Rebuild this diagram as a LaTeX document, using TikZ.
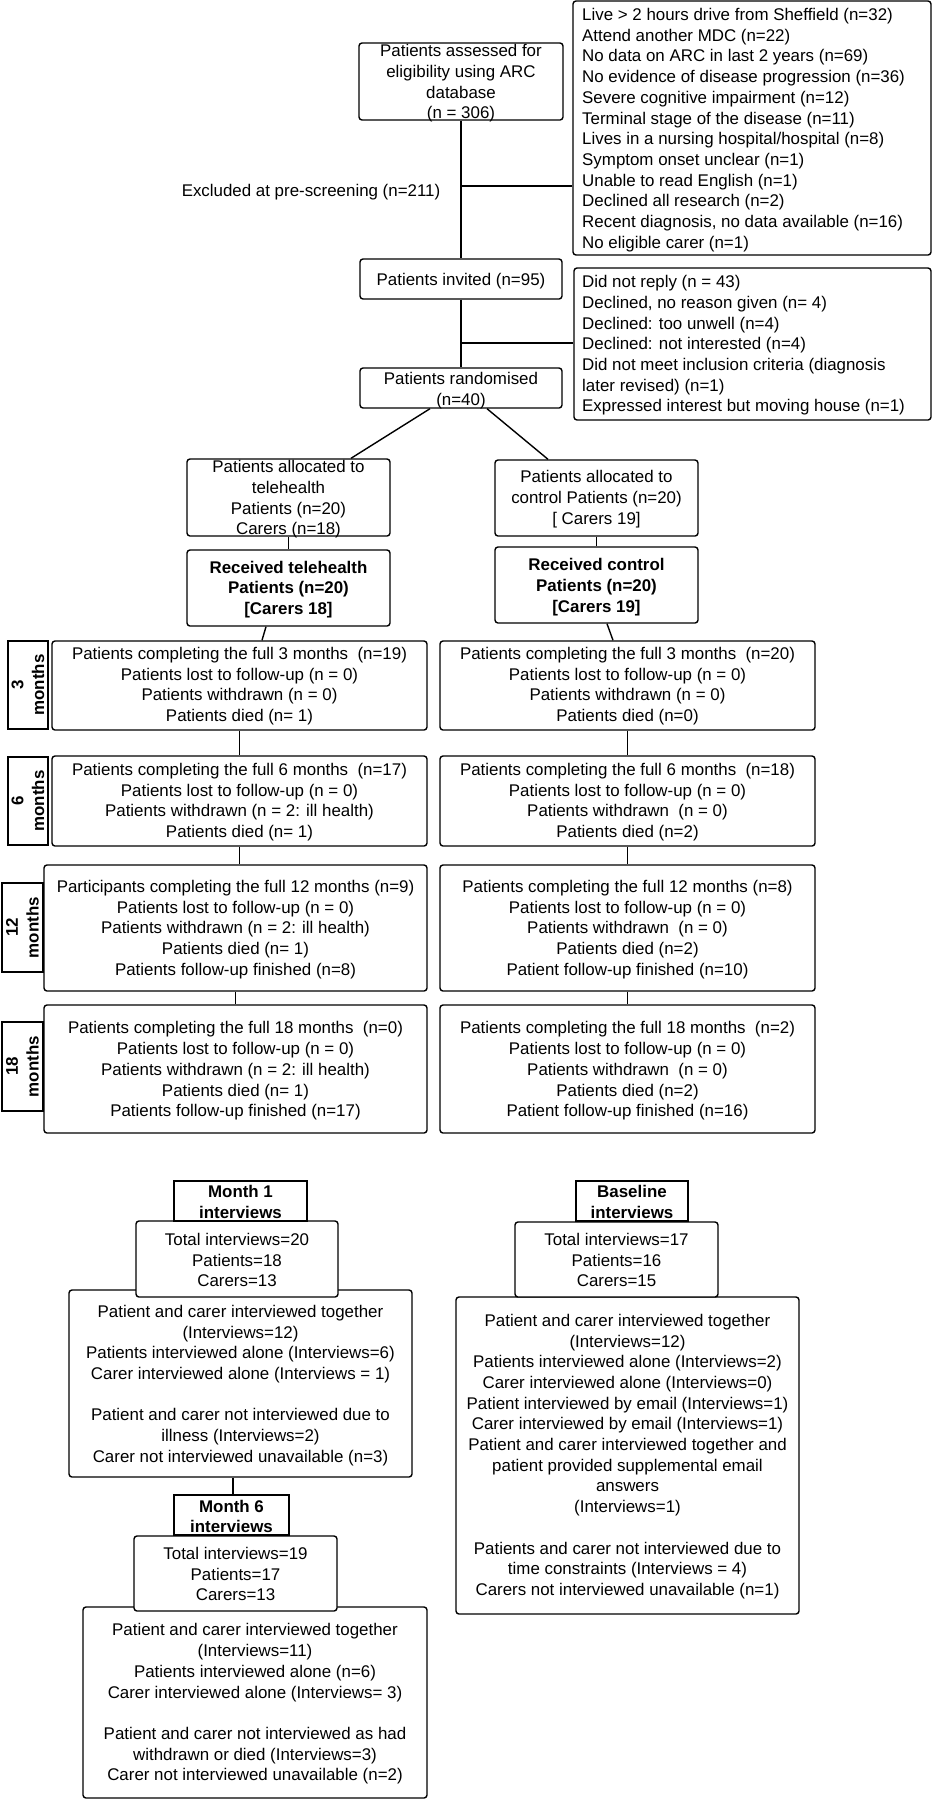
\documentclass[tikz,border=0pt]{standalone}
\usepackage{fontspec}
\setmainfont{Liberation Sans}
\newcommand\myfs{\fontsize{16.9}{20.7}\selectfont}
\newcommand\mkbox[6][box]{\node[#1, minimum width={#5-#3}, minimum height={#6-#4}] (#2) at ({(#3+#5)/2},{(#4+#6)/2}) {};}
\begin{document}
\begin{tikzpicture}[x=1pt,y=-1pt,
  box/.style={draw, line width=1.4pt, rounded corners=3pt, fill=white, inner sep=0pt},
  sqbox/.style={draw, line width=1.4pt, fill=white, inner sep=0pt},
  txt/.style={inner sep=0pt, align=center, font=\myfs},
  btxt/.style={inner sep=0pt, align=center, font=\myfs\bfseries},
  ltxt/.style={inner sep=0pt, align=left, anchor=west, font=\myfs},
  con/.style={line width=1.4pt}]
\useasboundingbox[fill=white] (0,0) rectangle (933,1800);

% ---- boxes ----
\mkbox{assess}{359}{43}{563}{120}
\mkbox{excl1}{573}{1}{931}{255}
\mkbox{invited}{360}{259}{562}{299}
\mkbox{excl2}{574}{268}{931}{420}
\mkbox{rand}{360}{368}{562}{408}
\mkbox{alloc1}{187}{459}{390}{536}
\mkbox{alloc2}{495}{460}{698}{536}
\mkbox{recv1}{187}{550}{390}{626}
\mkbox{recv2}{495}{547}{698}{623}
\mkbox{m3L}{52}{641}{427}{730}
\mkbox{m3R}{440}{641}{815}{730}
\mkbox[sqbox]{lab3}{8}{641}{48}{729}
\mkbox{m6L}{52}{756}{427}{846}
\mkbox{m6R}{440}{756}{815}{846}
\mkbox[sqbox]{lab6}{8}{757}{48}{845}
\mkbox{m12L}{44}{865}{427}{991}
\mkbox{m12R}{440}{865}{815}{991}
\mkbox[sqbox]{lab12}{2}{883}{43}{972}
\mkbox{m18L}{44}{1005}{427}{1133}
\mkbox{m18R}{440}{1005}{815}{1133}
\mkbox[sqbox]{lab18}{2}{1022}{43}{1111}

\mkbox{m1big}{69}{1290}{412}{1477}
\mkbox{m1tot}{136}{1221}{338}{1297}
\mkbox[sqbox]{m1lab}{174}{1181}{307}{1221}
\mkbox{blbig}{456}{1297}{799}{1614}
\mkbox{bltot}{515}{1222}{718}{1297}
\mkbox[sqbox]{bllab}{576}{1181}{688}{1221}
\mkbox{m6big}{83}{1607}{427}{1798}
\mkbox{m6tot}{134}{1536}{337}{1611}
\mkbox[sqbox]{m6lab}{174}{1495}{289}{1535}

% ---- connectors ----
\draw[con] (assess.south) -- (invited.north);
\coordinate (j1) at (461,186);
\draw[con] (j1) -- (j1 -| excl1.west);
\draw[con] (invited.south) -- (rand.north);
\coordinate (j2) at (461,343);
\draw[con] (j2) -- (j2 -| excl2.west);
\draw[con] ([xshift=-31pt]rand.south) -- ([xshift=62.5pt]alloc1.north);
\draw[con] ([xshift=26pt]rand.south) -- ([xshift=-48.5pt]alloc2.north);
\draw[con] (alloc1.south) -- (recv1.north);
\draw[con] (alloc2.south) -- (recv2.north);
\draw[con] ([xshift=-22.5pt]recv1.south) -- ([xshift=22.5pt]m3L.north);
\draw[con] ([xshift=10.5pt]recv2.south) -- ([xshift=-14.5pt]m3R.north);
\draw[con] (m3L.south) -- (m3L.south |- m6L.north);
\draw[con] (m3R.south) -- (m6R.north);
\draw[con] (m6L.south) -- (m6L.south |- m12L.north);
\draw[con] (m6R.south) -- (m12R.north);
\draw[con] (m12L.south) -- (m18L.north);
\draw[con] (m12R.south) -- (m18R.north);
\draw[con] ([xshift=-7.5pt]m1big.south) -- ([xshift=-7.5pt]m1big.south |- m6lab.north);

% ---- texts ----
\node[txt] (t-assess) at (461,83.5) {Patients assessed for\\eligibility using ARC\\database\\(n = 306)};
\node[ltxt] (t-excl1) at (582,130) {Live > 2 hours drive from Sheffield (n=32)\\Attend another MDC (n=22)\\No data on ARC in last 2 years (n=69)\\No evidence of disease progression (n=36)\\Severe cognitive impairment (n=12)\\Terminal stage of the disease (n=11)\\Lives in a nursing hospital/hospital (n=8)\\Symptom onset unclear (n=1)\\Unable to read English (n=1)\\Declined all research (n=2)\\Recent diagnosis, no data available (n=16)\\No eligible carer (n=1)};
\node[txt] (t-excluded) at (311,192) {Excluded at pre-screening (n=211)};
\node[txt] (t-invited) at (461,281) {Patients invited (n=95)};
\node[ltxt] (t-excl2) at (582,345.5) {Did not reply (n = 43)\\Declined, no reason given (n= 4)\\Declined: too unwell (n=4)\\Declined: not interested (n=4)\\Did not meet inclusion criteria (diagnosis\\later revised) (n=1)\\Expressed interest but moving house (n=1)};
\node[txt] (t-rand) at (461,390.5) {Patients randomised\\(n=40)};
\node[txt] (t-alloc1) at (288.5,499.5) {Patients allocated to\\telehealth\\Patients (n=20)\\Carers (n=18)};
\node[txt] (t-alloc2) at (596.5,499) {Patients allocated to\\control Patients (n=20)\\{[} Carers 19{]}};
\node[btxt] (t-recv1) at (288.5,589.5) {Received telehealth\\Patients (n=20)\\{[}Carers 18{]}};
\node[btxt] (t-recv2) at (596.5,587) {Received control\\Patients (n=20)\\{[}Carers 19{]}};

\node[txt] (t-m3L) at (239.5,686) {Patients completing the full 3 months\ \ (n=19)\\Patients lost to follow-up (n = 0)\\Patients withdrawn (n = 0)\\Patients died (n= 1)};
\node[txt] (t-m3R) at (627.5,686) {Patients completing the full 3 months\ \ (n=20)\\Patients lost to follow-up (n = 0)\\Patients withdrawn (n = 0)\\Patients died (n=0)};
\node[txt] (t-m6L) at (239.5,802) {Patients completing the full 6 months\ \ (n=17)\\Patients lost to follow-up (n = 0)\\Patients withdrawn (n = 2: ill health)\\Patients died (n= 1)};
\node[txt] (t-m6R) at (627.5,802) {Patients completing the full 6 months\ \ (n=18)\\Patients lost to follow-up (n = 0)\\Patients withdrawn\ \ (n = 0)\\Patients died (n=2)};
\node[txt] (t-m12L) at (235.5,929.5) {Participants completing the full 12 months (n=9)\\Patients lost to follow-up (n = 0)\\Patients withdrawn (n = 2: ill health)\\Patients died (n= 1)\\Patients follow-up finished (n=8)};
\node[txt] (t-m12R) at (627.5,929.5) {Patients completing the full 12 months (n=8)\\Patients lost to follow-up (n = 0)\\Patients withdrawn\ \ (n = 0)\\Patients died (n=2)\\Patient follow-up finished (n=10)};
\node[txt] (t-m18L) at (235.5,1071) {Patients completing the full 18 months\ \ (n=0)\\Patients lost to follow-up (n = 0)\\Patients withdrawn (n = 2: ill health)\\Patients died (n= 1)\\Patients follow-up finished (n=17)};
\node[txt] (t-m18R) at (627.5,1071) {Patients completing the full 18 months\ \ (n=2)\\Patients lost to follow-up (n = 0)\\Patients withdrawn\ \ (n = 0)\\Patients died (n=2)\\Patient follow-up finished (n=16)};

\node[btxt, rotate=90] (t-lab3) at (lab3) {3\\months};
\node[btxt, rotate=90] (t-lab6) at (lab6) {6\\months};
\node[btxt, rotate=90] (t-lab12) at (lab12) {12\\months};
\node[btxt, rotate=90] (t-lab18) at (lab18) {18\\months};

\node[btxt] (t-m1lab) at (240.5,1202) {Month 1\\interviews};
\node[txt] (t-m1tot) at (237,1260) {Total interviews=20\\Patients=18\\Carers=13};
\node[txt] (t-m1big) at (240.5,1385.5) {Patient and carer interviewed together\\(Interviews=12)\\Patients interviewed alone (Interviews=6)\\Carer interviewed alone (Interviews = 1)\\\mbox{}\\Patient and carer not interviewed due to\\illness (Interviews=2)\\Carer not interviewed unavailable (n=3)};

\node[btxt] (t-bllab) at (632,1202) {Baseline\\interviews};
\node[txt] (t-bltot) at (616.5,1260) {Total interviews=17\\Patients=16\\Carers=15};
\node[txt] (t-blbig) at (627.5,1456.5) {Patient and carer interviewed together\\(Interviews=12)\\Patients interviewed alone (Interviews=2)\\Carer interviewed alone (Interviews=0)\\Patient interviewed by email (Interviews=1)\\Carer interviewed by email (Interviews=1)\\Patient and carer interviewed together and\\patient provided supplemental email\\answers\\(Interviews=1)\\\mbox{}\\Patients and carer not interviewed due to\\time constraints (Interviews = 4)\\Carers not interviewed unavailable (n=1)};

\node[btxt] (t-m6lab) at (231.5,1516.5) {Month 6\\interviews};
\node[txt] (t-m6tot) at (235.5,1574) {Total interviews=19\\Patients=17\\Carers=13};
\node[txt] (t-m6big) at (255,1704) {Patient and carer interviewed together\\(Interviews=11)\\Patients interviewed alone (n=6)\\Carer interviewed alone (Interviews= 3)\\\mbox{}\\Patient and carer not interviewed as had\\withdrawn or died (Interviews=3)\\Carer not interviewed unavailable (n=2)};
\end{tikzpicture}
\end{document}
